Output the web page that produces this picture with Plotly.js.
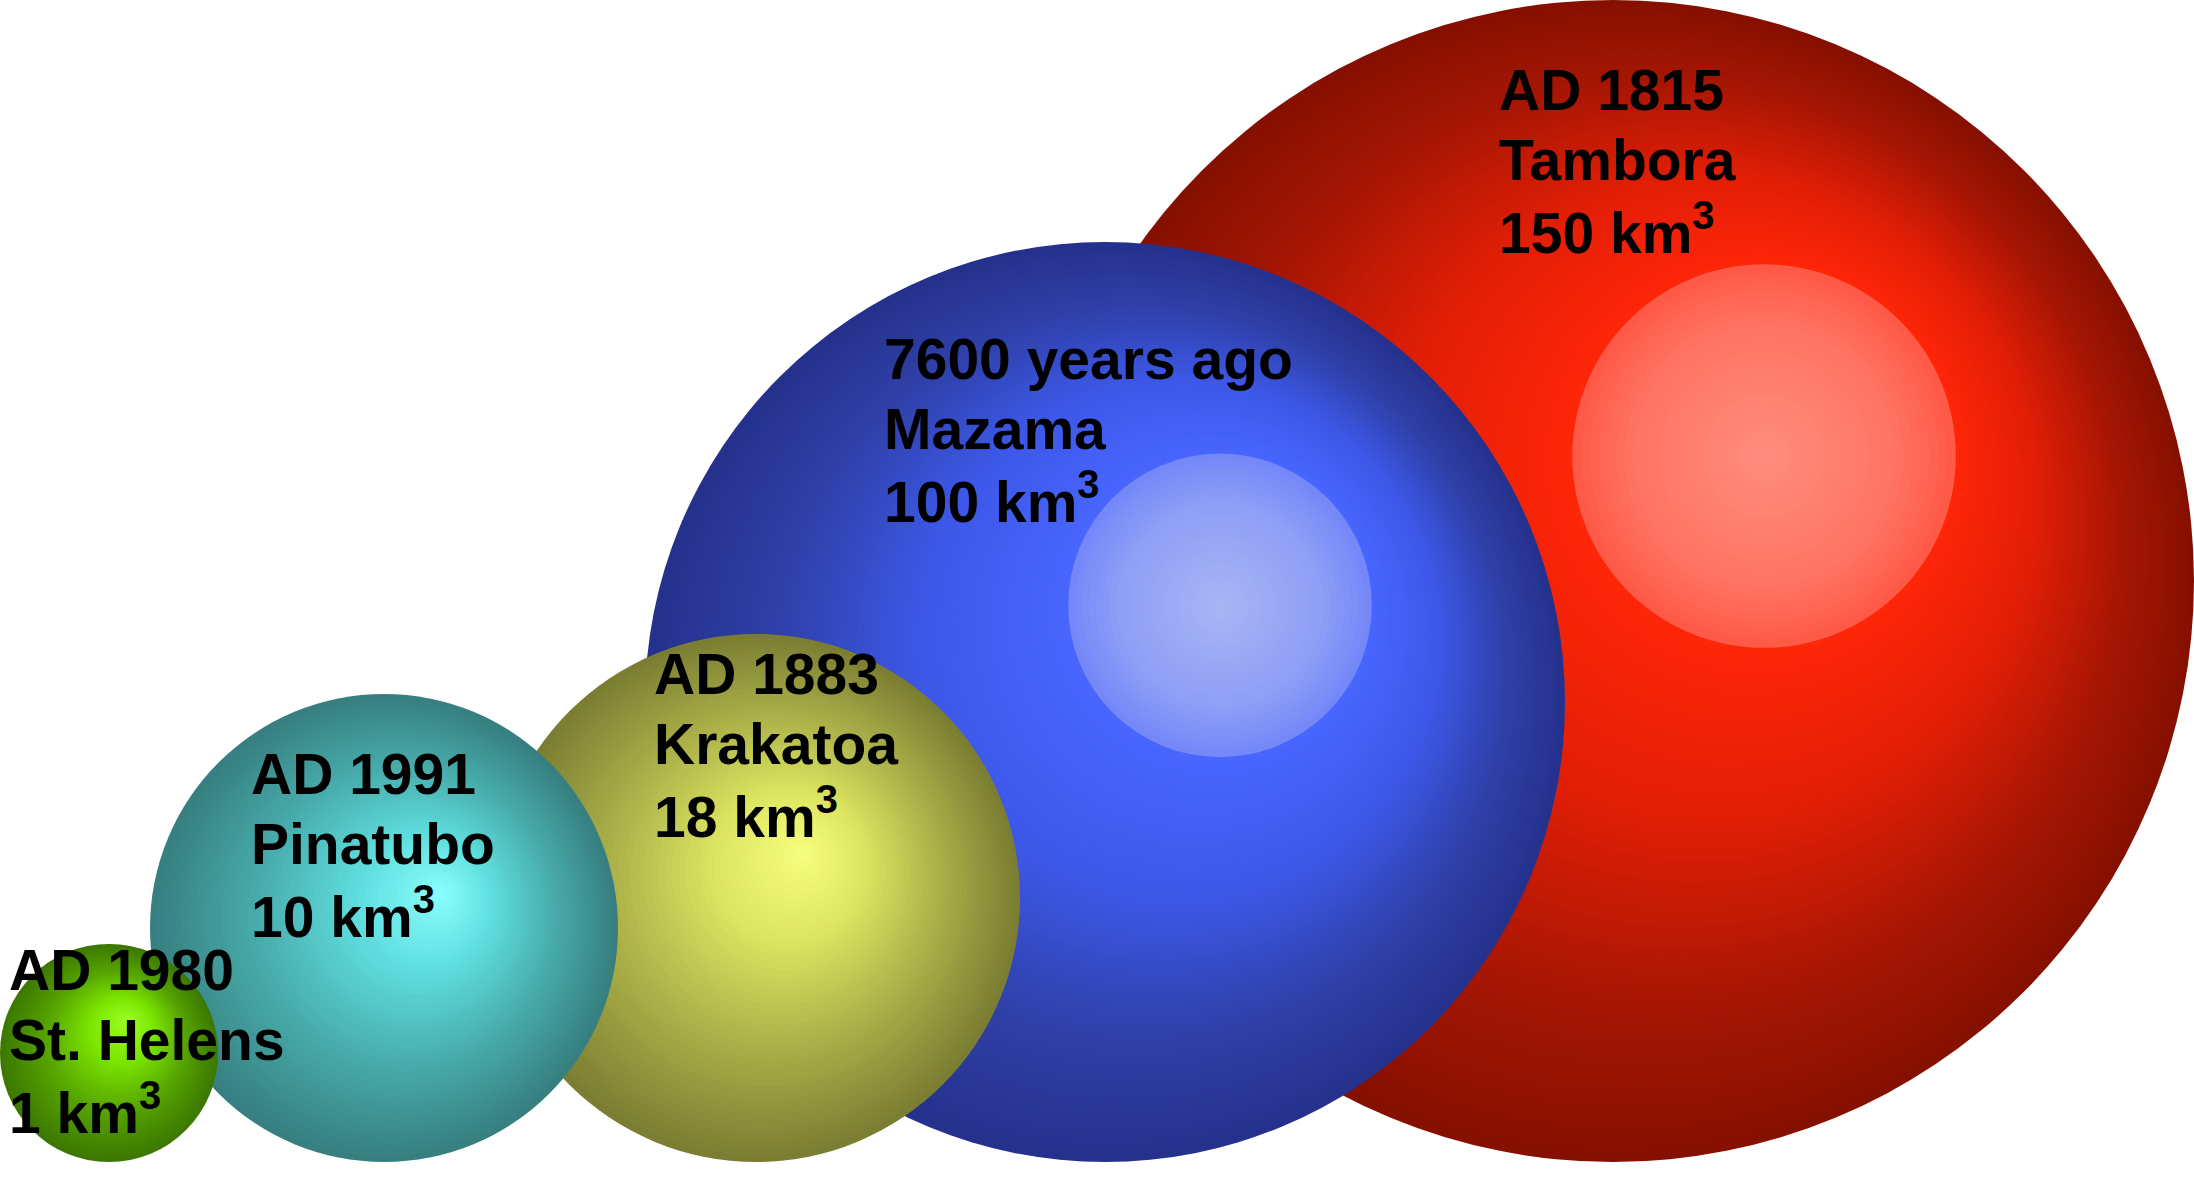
<!DOCTYPE html>
<html>
<head>
<meta charset="utf-8">
<script src="https://cdn.plot.ly/plotly-3.0.1.min.js"></script>
<style>html,body{margin:0;padding:0;background:#fff;}#chart{width:2194px;height:1194px;}</style>
</head>
<body>
<div id="chart"></div>
<script>
// ---- data ----
const dates = ['AD 1980', 'AD 1991', 'AD 1883', '7600 years ago', 'AD 1815'];
const volcanoes = ['St. Helens', 'Pinatubo', 'Krakatoa', 'Mazama', 'Tambora'];
const volumes = [1, 10, 18, 100, 150];
const volumeUnit = 'km';

// ---- layout (positions / sizes, chart units) ----
const ground = 32;
const centersX = [109, 384, 756, 1105, 1613];
const radii = [109, 234, 264, 460, 581];
const labelX = [7, 249, 652, 882, 1497];
const labelTopY = [224, 420, 520, 835, 1104];
const lineGap = 69.5;

// ---- styles ----
const hlOffset = [[0.17, 0.30], [0.25, 0.15], [0.18, 0.17], [0.25, 0.21], [0.26, 0.215]];
const hlRadius = [0, 0, 0, 0.33, 0.33];
const bodyStops = [
  [[0, '#3c7800'], [0.35, '#56a400'], [0.7, '#7ce600'], [1, '#9cff28']],
  [[0, '#377f80'], [0.35, '#48abab'], [0.7, '#5fdede'], [1, '#8cffff']],
  [[0, '#7b7e32'], [0.35, '#a9ae48'], [0.7, '#dce460'], [1, '#f8ff80']],
  [[0, '#25318c'], [0.3, '#2f40a8'], [0.65, '#3d58e8'], [1, '#4866ff']],
  [[0, '#861000'], [0.3, '#a71604'], [0.65, '#e01e06'], [1, '#ff2608']]
];
const hlStops = [null, null, null,
  [[0, '#7488f8'], [0.3, '#8d9ef6'], [1, '#aab6f4']],
  [[0, '#ff5a48'], [0.3, '#ff7462'], [1, '#ff8e80']]
];

function hexRgb(h) { h = h.replace('#', ''); return [0, 2, 4].map(i => parseInt(h.substr(i, 2), 16)); }
function lerpColor(stops, t) {
  for (let k = 0; k < stops.length - 1; k++) {
    const [t0, c0] = stops[k], [t1, c1] = stops[k + 1];
    if (t <= t1 || k === stops.length - 2) {
      const f = Math.max(0, Math.min(1, (t - t0) / (t1 - t0)));
      const a = hexRgb(c0), b = hexRgb(c1);
      return 'rgb(' + a.map((v, i) => Math.round(v + (b[i] - v) * f)).join(',') + ')';
    }
  }
}

const shapes = [];
function addSphere(i) {
  const r = radii[i], cx = centersX[i], cy = ground + r;
  const ox = hlOffset[i][0] * r, oy = hlOffset[i][1] * r;
  const rh = hlRadius[i] * r;
  const n1 = r > 300 ? 70 : 45;
  for (let k = 0; k < n1; k++) {
    const t = k / n1;
    const rad = r - (r - rh) * t;
    const x = cx + ox * t, y = cy + oy * t;
    shapes.push({type: 'circle', xref: 'x', yref: 'y', x0: x - rad, x1: x + rad, y0: y - rad, y1: y + rad,
      fillcolor: lerpColor(bodyStops[i], t), line: {width: 0}, layer: 'below'});
  }
  if (rh > 0) {
    const n2 = 22;
    for (let k = 0; k < n2; k++) {
      const s = k / n2;
      const rad = rh * (1 - s);
      const x = cx + ox, y = cy + oy;
      shapes.push({type: 'circle', xref: 'x', yref: 'y', x0: x - rad, x1: x + rad, y0: y - rad, y1: y + rad,
        fillcolor: lerpColor(hlStops[i], s), line: {width: 0}, layer: 'below'});
    }
  }
}
// draw largest first so smaller spheres sit in front
[4, 3, 2, 1, 0].forEach(addSphere);

const annotations = [];
const font = {family: 'Liberation Sans, Arial, Helvetica, sans-serif', size: 57, color: '#000'};
for (let i = 0; i < volcanoes.length; i++) {
  const lines = [dates[i], volcanoes[i], volumes[i] + ' ' + volumeUnit + '<sup>3</sup>'];
  lines.forEach((txt, j) => {
    annotations.push({x: labelX[i], y: labelTopY[i] - j * lineGap, xref: 'x', yref: 'y',
      text: '<b>' + txt + '</b>', showarrow: false, xanchor: 'left', yanchor: 'middle',
      align: 'left', font: font});
  });
}

const trace = {
  type: 'scatter', mode: 'markers',
  x: centersX, y: radii.map(r => ground + r),
  text: volcanoes.map((v, i) => dates[i] + ' ' + v + ': ' + volumes[i] + ' km³'),
  hoverinfo: 'text', marker: {size: 1, opacity: 0}, showlegend: false
};

const layout = {
  width: 2194, height: 1194,
  margin: {l: 0, r: 0, t: 0, b: 0, pad: 0},
  paper_bgcolor: '#ffffff', plot_bgcolor: '#ffffff',
  xaxis: {range: [0, 2194], visible: false, showgrid: false, zeroline: false, fixedrange: true},
  yaxis: {range: [0, 1194], visible: false, showgrid: false, zeroline: false, fixedrange: true},
  shapes: shapes, annotations: annotations, showlegend: false
};
Plotly.newPlot('chart', [trace], layout, {displayModeBar: false, staticPlot: true});
</script>
</body>
</html>
